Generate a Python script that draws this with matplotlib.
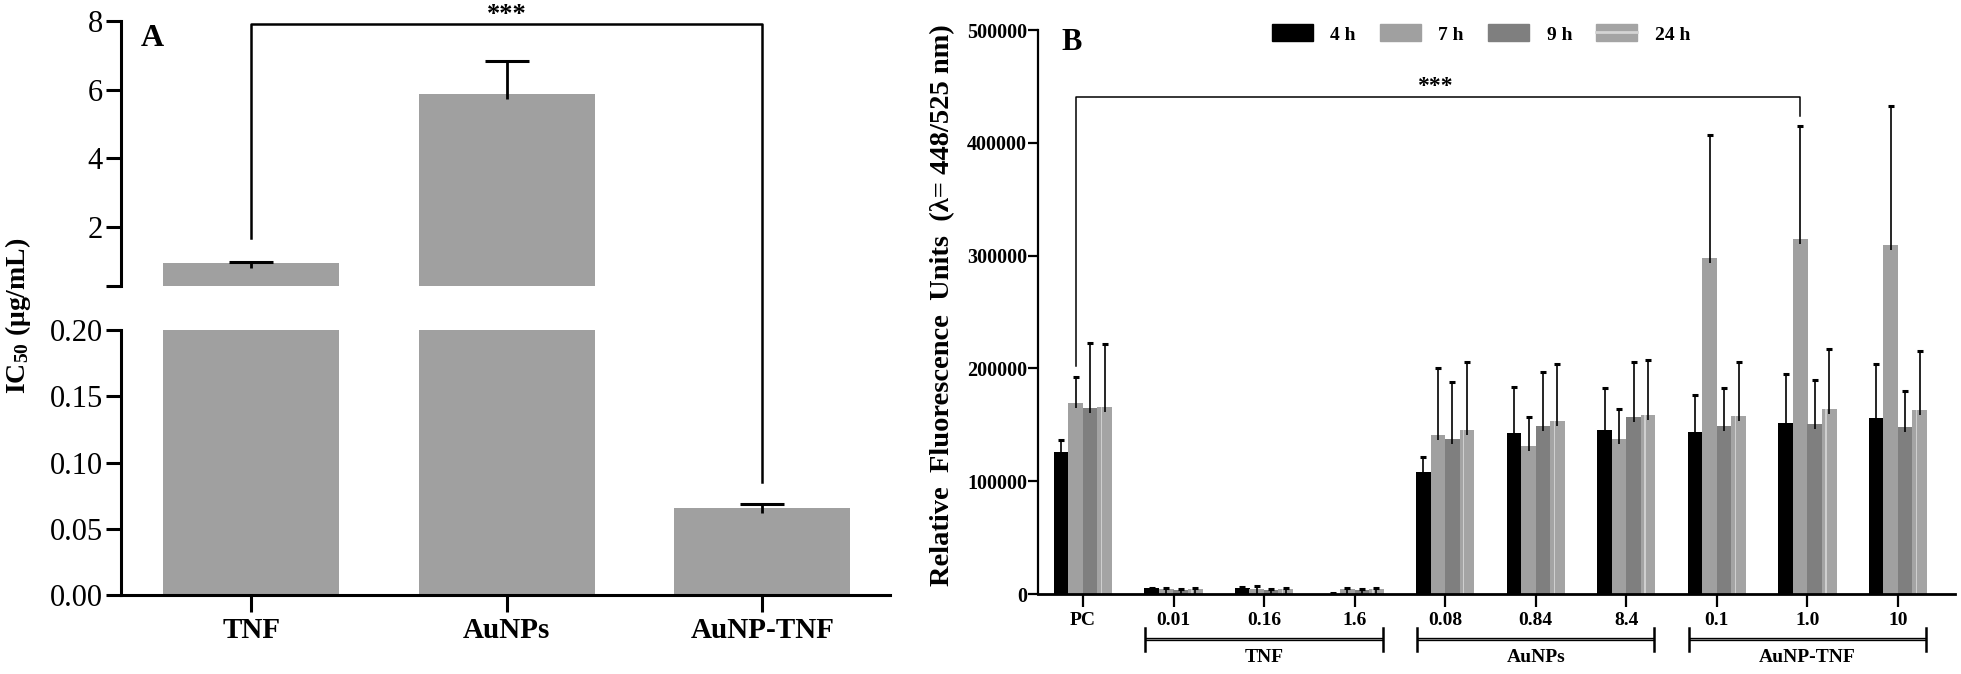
import numpy as np
import matplotlib
matplotlib.use('Agg')
import matplotlib.pyplot as plt
from matplotlib.patches import Patch
from matplotlib.lines import Line2D
import matplotlib.transforms as mtrans

plt.rcParams['font.family'] = ['Liberation Serif', 'DejaVu Serif']
plt.rcParams['mathtext.fontset'] = 'custom'
plt.rcParams['mathtext.rm'] = 'Liberation Serif:bold'
plt.rcParams['mathtext.it'] = 'Liberation Serif:bold'
plt.rcParams['mathtext.bf'] = 'Liberation Serif:bold'

# ---------------- Data ----------------
# Panel A
a_categories = ['TNF', 'AuNPs', 'AuNP-TNF']
a_ic50 = [0.97, 5.88, 0.066]
a_err = [0.02, 0.94, 0.003]
a_upper_ticks = [2, 4, 6, 8]
a_lower_ticks = [0.00, 0.05, 0.10, 0.15, 0.20]
a_sig_top = 7.91
a_sig_left_end = 1.69
a_sig_right_end = 0.085

# Panel B
b_labels = ['PC', '0.01', '0.16', '1.6', '0.08', '0.84', '8.4', '0.1', '1.0', '10']
b_series = ['4 h', '7 h', '9 h', '24 h']
b_4h = [126300, 5200, 5500, 300, 108500, 142800, 145400, 143900, 151900, 156100]
b_4h_err = [10300, 300, 400, 200, 13300, 41100, 37300, 32300, 43400, 47500]
b_7h = [169700, 4500, 4800, 4800, 140900, 131300, 137800, 297600, 314400, 309000]
b_7h_err = [22600, 1200, 2200, 900, 59700, 25900, 25900, 108900, 100100, 123700]
b_9h = [164800, 3500, 3800, 3800, 137100, 149200, 157200, 148500, 150400, 147700]
b_9h_err = [57600, 800, 900, 900, 50600, 48000, 48400, 34200, 39100, 32300]
b_24h = [165600, 4200, 4200, 4600, 145400, 153400, 158800, 158000, 164100, 163300]
b_24h_err = [56200, 800, 900, 800, 60200, 50200, 48700, 47600, 53200, 51800]
b_groups = ['TNF', 'AuNPs', 'AuNP-TNF']
b_group_members = [(1, 3), (4, 6), (7, 9)]
b_yticks = [0, 100000, 200000, 300000, 400000, 500000]
b_sig_top = 441000
b_sig_left_end = 202000
b_sig_right_end = 424000
b_sig_pair = (0, 8)

# ---------------- Figure ----------------
W, H = 1961, 674
fig = plt.figure(figsize=(W / 100, H / 100), dpi=100)

def rect(l, t, r, b):
    return [l / W, 1 - b / H, (r - l) / W, (b - t) / H]

BAR_A = '#a0a0a0'
axA_up = fig.add_axes(rect(121, 20.6, 890, 286))
axA_lo = fig.add_axes(rect(121, 330, 890, 595))

xA = np.arange(len(a_categories))
for ax in (axA_up, axA_lo):
    ax.patch.set_visible(False)
    ax.bar(xA, a_ic50, width=0.69, color=BAR_A, zorder=1)
    ax.set_xlim(-0.51, 2.50)
    for s in ('top', 'right'):
        ax.spines[s].set_visible(False)
    ax.spines['left'].set_linewidth(2.2)
    ax.spines['bottom'].set_linewidth(2.2)
    ax.tick_params(axis='both', direction='out', length=11, width=2.2,
                   labelsize=22, pad=2)

axA_up.set_ylim(0.3, 8)
axA_up.spines['bottom'].set_visible(False)
axA_up.set_xticks([])
axA_up.set_yticks([0.3] + a_upper_ticks)
axA_up.set_yticklabels([''] + [str(t) for t in a_upper_ticks])
axA_up.spines['left'].set_bounds(0.3, 8)

axA_lo.set_ylim(0, 0.2)
axA_lo.set_yticks(a_lower_ticks)
axA_lo.set_yticklabels(['%.2f' % t for t in a_lower_ticks])
axA_lo.set_xticks(xA)
axA_lo.set_xticklabels(a_categories, fontweight='bold', fontsize=21)
axA_lo.tick_params(axis='x', length=12, pad=4)

# error bars A
for ax, span, hpx in ((axA_up, 8 - 0.3, 265.4), (axA_lo, 0.2, 265.0)):
    ext = 5 * span / hpx
    lo = np.array(a_ic50) - ext
    hi = np.array(a_ic50) + np.array(a_err)
    ax.vlines(xA, lo, hi, color='black', lw=2.0, zorder=3)
    ax.plot(xA, hi, linestyle='none', marker='_', markersize=32, mew=2.2,
            color='black', zorder=3)

# significance bracket A (spans both axes)
fig.canvas.draw()
def lo_to_up(x, y):
    disp = axA_lo.transData.transform((x, y))
    return axA_up.transData.inverted().transform(disp)
rx, ry = lo_to_up(2, a_sig_right_end)
axA_up.plot([0, 0, 2, 2], [a_sig_left_end, a_sig_top, a_sig_top, ry],
            color='black', lw=1.8, clip_on=False, zorder=4)
trA = mtrans.blended_transform_factory(axA_up.transData, fig.transFigure)
axA_up.text(1.0, 1 - 3 / H, '***', transform=trA, ha='center', va='top',
            fontsize=19, fontweight='bold')
fig.text(152 / W, 1 - 38 / H, 'A', ha='center', va='center', fontsize=23,
         fontweight='bold')
fig.text(18 / W, 1 - 316 / H, 'IC$_{50}$ (μg/mL)', rotation=90, ha='center',
         va='center', fontsize=20, fontweight='bold')

# ---------------- Panel B ----------------
axB = fig.add_axes(rect(1038, 30, 1955, 594))
xB = np.arange(len(b_labels))
bw = 0.16
colors = ['#000000', '#a0a0a0', '#7f7f7f', '#a4a4a4']
vals = [b_4h, b_7h, b_9h, b_24h]
errs = [b_4h_err, b_7h_err, b_9h_err, b_24h_err]
offsets = [(-1.5 + i) * bw for i in range(4)]
ext_b = 5 * 500000 / 564
for v, e, c, off in zip(vals, errs, colors, offsets):
    axB.bar(xB + off, v, width=bw * 1.02, color=c, zorder=1)
for v, e, off in zip(vals, errs, offsets):
    v = np.array(v); e = np.array(e)
    axB.vlines(xB + off, v - ext_b, v + e, color='black', lw=1.2, zorder=3)
    axB.plot(xB + off, v + e, linestyle='none', marker='_', markersize=4.5,
             mew=2.2, color='black', zorder=3)
# inner light line of the 24 h bars
axB.bar(xB + offsets[3] - 0.22 * bw, b_24h, width=0.1 * bw, color='#cfcfcf',
        zorder=2)

axB.set_xlim(-0.497, 9.63)
axB.set_ylim(0, 500000)
axB.set_yticks(b_yticks)
axB.set_yticklabels([str(t) for t in b_yticks], fontweight='bold')
axB.set_xticks(xB)
axB.set_xticklabels(b_labels, fontweight='bold')
for s in ('top', 'right'):
    axB.spines[s].set_visible(False)
axB.spines['left'].set_linewidth(1.6)
axB.spines['bottom'].set_linewidth(2.0)
axB.tick_params(axis='y', direction='out', length=7, width=1.6, labelsize=14.5,
                pad=1)
axB.tick_params(axis='x', direction='out', length=9, width=1.6, labelsize=14,
                pad=4)

# significance bracket B
sx0 = b_sig_pair[0] + offsets[1]
sx1 = b_sig_pair[1] + offsets[1]
axB.plot([sx0, sx0, sx1, sx1], [b_sig_left_end, b_sig_top, b_sig_top, b_sig_right_end],
         color='black', lw=1.1, zorder=4)
trB = mtrans.blended_transform_factory(axB.transData, fig.transFigure)
axB.text(3.88, 1 - 76 / H, '***', transform=trB, ha='center', va='top',
         fontsize=17, fontweight='bold')

# group brackets
tr = mtrans.blended_transform_factory(axB.transData, axB.transAxes)
yb = -(639 - 594) / 564
ytk = 11.5 / 564
ylab = -(657 - 594) / 564
for name, (i0, i1) in zip(b_groups, b_group_members):
    x0, x1 = i0 - 0.31, i1 + 0.31
    axB.plot([x0, x1], [yb, yb], transform=tr, color='black', lw=2.4,
             clip_on=False, solid_capstyle='butt')
    axB.plot([x0, x1], [yb, yb], transform=tr, color='#909090', lw=0.6,
             clip_on=False, solid_capstyle='butt')
    for xx in (x0, x1):
        axB.plot([xx, xx], [yb - ytk, yb + ytk], transform=tr, color='black',
                 lw=1.8, clip_on=False)
    axB.text((i0 + i1) / 2, ylab, name, transform=tr, ha='center', va='center',
             fontsize=14, fontweight='bold')

fig.text(1072 / W, 1 - 42 / H, 'B', ha='center', va='center', fontsize=22,
         fontweight='bold')
fig.text(943 / W, 1 - 305 / H, 'Relative  Fluorescence  Units  (λ= 448/525 nm)',
         rotation=90, ha='center', va='center', fontsize=20.5, fontweight='bold')

# legend
handles = [Patch(color=colors[0]), Patch(color=colors[1]), Patch(color=colors[2]),
           (Patch(color=colors[3]), Line2D([], [], color='#d4d4d4', lw=2))]
fig.legend(handles, b_series, loc='center', ncol=4,
           bbox_to_anchor=(1481 / W, 1 - 34 / H), frameon=False,
           prop={'weight': 'bold', 'size': 14}, handlelength=2.1,
           handleheight=0.95, handletextpad=0.9, columnspacing=1.25)

fig.savefig('out.png', dpi=100)
